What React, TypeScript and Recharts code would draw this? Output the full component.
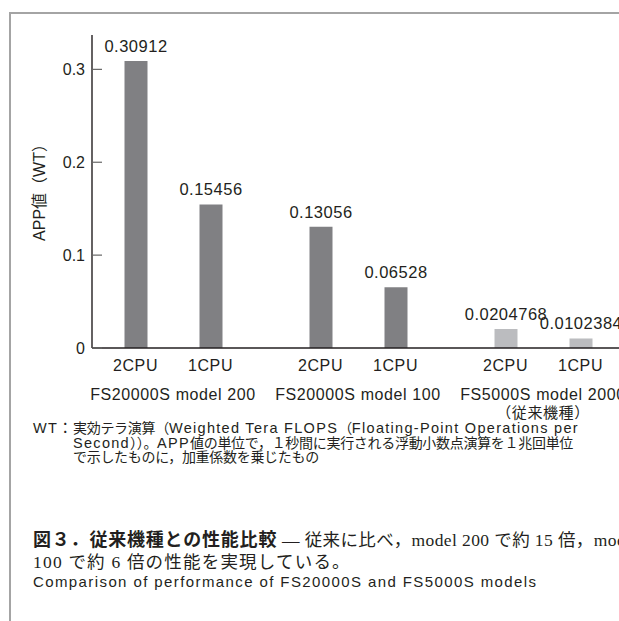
import { Bar, BarChart, Cell, LabelList, XAxis, YAxis } from 'recharts'

const groups = ['FS20000S model 200', 'FS20000S model 100', 'FS5000S model 2000']
const groupNotes = ['', '', '（従来機種）']
const cpuLabels = ['2CPU', '1CPU']
const twoCpu = [0.30912, 0.13056, 0.0204768]
const oneCpu = [0.15456, 0.06528, 0.0102384]
const isLegacy = [false, false, true]
const yTicks = [0, 0.1, 0.2, 0.3]

const noteLines = [
  '実効テラ演算（Weighted Tera FLOPS（Floating-Point Operations per',
  'Second））。APP値の単位で，１秒間に実行される浮動小数点演算を１兆回単位',
  'で示したものに，加重係数を乗じたもの',
]
const captionTitle = '図３．従来機種との性能比較'
const captionRest = ' — 従来に比べ，model 200 で約 15 倍，model'
const captionLine2 = '100 で約 6 倍の性能を実現している。'
const captionEn = 'Comparison of performance of FS20000S and FS5000S models'

const SANS = '"Liberation Sans", Arial, "Noto Sans CJK JP", sans-serif'
const SERIF = '"Liberation Serif", "Noto Sans CJK JP", serif'
const INK = '#231f20'
const DARK_BAR = '#808083'
const LIGHT_BAR = '#bbbcbf'
const BAR_SIZE = 23
const BAR_GAP = 52

const data = groups.map((name, i) => ({ name, cpu2: twoCpu[i], cpu1: oneCpu[i] }))

const CJK = /([\u3000-\u30ff\u3400-\u9fff\uff00-\uffef]+)/

// latin runs are set a little larger and looser than the kana/kanji runs
function Mixed({ text, latinSize, latin, cjk = 0 }: { text: string; latinSize: number; latin: number; cjk?: number }) {
  return (
    <>
      {text
        .split(CJK)
        .filter(Boolean)
        .map((s, i) =>
          CJK.test(s) ? (
            <span key={i} style={{ letterSpacing: cjk }}>{s}</span>
          ) : (
            <span key={i} style={{ letterSpacing: latin, fontSize: latinSize }}>{s}</span>
          ),
        )}
    </>
  )
}

function GroupTick(props: any) {
  const { x, y, payload } = props
  const i = groups.indexOf(payload.value)
  const half = (BAR_SIZE + BAR_GAP) / 2
  const common = { fill: INK, fontFamily: SANS, textAnchor: 'middle' as const, style: { letterSpacing: 0.6 } }
  return (
    <g>
      <text x={x - half} y={y + 23} fontSize={16} {...common}>{cpuLabels[0]}</text>
      <text x={x + half} y={y + 23} fontSize={16} {...common}>{cpuLabels[1]}</text>
      <text x={x} y={y + 52} fontSize={16} {...common}>{payload.value}</text>
      {groupNotes[i] && (
        <text x={x} y={y + 70} fontSize={15} {...common}>{groupNotes[i]}</text>
      )}
    </g>
  )
}

function ValueLabel(p: any) {
  const x = Number(p.x) + Number(p.width) / 2
  const y = Number(p.y) - 9
  return (
    <text x={x} y={y} textAnchor="middle" fill={INK} fontSize={16.5} fontFamily={SANS} style={{ letterSpacing: 0.5 }}>
      {p.value}
    </text>
  )
}

function YLabel(p: any) {
  const vb = p.viewBox || { x: 0, y: 35, width: 92, height: 313 }
  const cx = vb.x + 39
  const cy = vb.y + vb.height / 2 - 3
  return (
    <text
      transform={`translate(${cx}, ${cy}) rotate(-90)`}
      textAnchor="middle"
      dominantBaseline="central"
      fill={INK}
      fontSize={16}
      fontFamily={SANS}
    >
      APP値（WT）
    </text>
  )
}

function PerfChart() {
  return (
    <BarChart
      width={660}
      height={425}
      data={data}
      margin={{ top: 35, right: 24.5, bottom: 2, left: 0 }}
      barSize={BAR_SIZE}
      barGap={BAR_GAP}
    >
      <XAxis
        dataKey="name"
        height={75}
        padding={{ left: -11.5, right: 0 }}
        axisLine={{ stroke: INK, strokeWidth: 1.4 }}
        tickLine={false}
        tickSize={0}
        tickMargin={0}
        interval={0}
        tick={<GroupTick />}
      />
      <YAxis
        width={92}
        domain={[0, 0.337]}
        ticks={yTicks}
        tickSize={-10}
        tickMargin={17}
        axisLine={{ stroke: INK, strokeWidth: 1.4 }}
        tickLine={{ stroke: '#666', strokeWidth: 1.2 }}
        tick={{ fill: INK, fontSize: 16, fontFamily: SANS }}
        tickFormatter={(v: number) => String(v)}
        label={YLabel}
      />
      <Bar dataKey="cpu2" isAnimationActive={false}>
        {data.map((d, i) => (
          <Cell key={d.name} fill={isLegacy[i] ? LIGHT_BAR : DARK_BAR} />
        ))}
        <LabelList dataKey="cpu2" content={ValueLabel} />
      </Bar>
      <Bar dataKey="cpu1" isAnimationActive={false}>
        {data.map((d, i) => (
          <Cell key={d.name} fill={isLegacy[i] ? LIGHT_BAR : DARK_BAR} />
        ))}
        <LabelList dataKey="cpu1" content={ValueLabel} />
      </Bar>
    </BarChart>
  )
}

export default function App() {
  return (
    <div
      style={{
        position: 'absolute',
        left: 0,
        top: 0,
        width: 619,
        height: 621,
        overflow: 'hidden',
        background: '#fff',
        fontFamily: SANS,
        color: INK,
      }}
    >
      <div
        style={{
          position: 'absolute',
          left: 9,
          top: 12,
          right: -10,
          bottom: -10,
          borderTop: '2px solid #a4a4a4',
          borderLeft: '2px solid #a4a4a4',
        }}
      />
      <div style={{ position: 'absolute', left: 0, top: 0 }}>
        <PerfChart />
      </div>

      <div
        style={{
          position: 'absolute',
          left: 33,
          top: 421,
          display: 'flex',
          fontSize: 14,
          lineHeight: '14.5px',
          whiteSpace: 'nowrap',
        }}
      >
        <span style={{ width: 40, flex: 'none', fontSize: 14.5, letterSpacing: 1.2 }}>WT：</span>
        <div>
          {noteLines.map((l) => (
            <div key={l}>
              <Mixed text={l} latinSize={14.5} latin={1.3} cjk={-0.3} />
            </div>
          ))}
        </div>
      </div>

      <div style={{ position: 'absolute', left: 33, top: 530, lineHeight: '20.5px', whiteSpace: 'nowrap' }}>
        <div>
          <span style={{ fontWeight: 700, fontSize: 18, letterSpacing: 0.8 }}>{captionTitle}</span>
          <span style={{ fontFamily: SERIF, fontSize: 17.5, letterSpacing: 0.4 }}>{captionRest}</span>
        </div>
        <div style={{ fontFamily: SERIF, fontSize: 17.5, letterSpacing: 1.2 }}>{captionLine2}</div>
        <div style={{ fontSize: 15, letterSpacing: 1.4 }}>{captionEn}</div>
      </div>
    </div>
  )
}
